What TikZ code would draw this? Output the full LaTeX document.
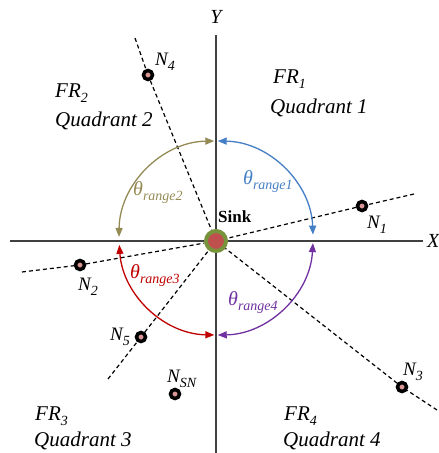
\documentclass[tikz,border=0pt]{standalone}
\usepackage{fontspec}
\setmainfont{Liberation Serif}
\usetikzlibrary{arrows.meta}
\definecolor{cblue}{HTML}{447EC4}
\definecolor{colive}{HTML}{948A54}
\definecolor{cred}{HTML}{C00000}
\definecolor{cpurple}{HTML}{7030A0}
\definecolor{caxis}{HTML}{404040}
\definecolor{cpink}{HTML}{D99694}
\definecolor{csink}{HTML}{C0504D}
\definecolor{cring}{HTML}{77933C}
\newcommand{\mysub}[1]{\raisebox{-5pt}{\fontsize{14}{14}\selectfont #1}}
\begin{document}
\begin{tikzpicture}[x=1pt,y=-1pt,
  axisline/.style={draw=caxis, line width=2pt},
  rayline/.style={draw=black, line width=1.2pt, dash pattern=on 4pt off 3pt},
  sensor/.style={circle, draw=black, line width=3.5pt, fill=cpink, minimum size=9pt, inner sep=0pt},
  sinknode/.style={circle, draw=cring, line width=4pt, fill=csink, minimum size=20pt, inner sep=0pt},
  rangearc/.style={line width=1.3pt, {Triangle[length=9pt,width=7pt]}-{Triangle[length=9pt,width=7pt]}},
  bigtxt/.style={font=\fontsize{21}{21}\selectfont\itshape, inner sep=0pt, anchor=base west},
  ntxt/.style={font=\fontsize{19}{19}\selectfont\itshape, inner sep=0pt, anchor=base west},
  thtxt/.style={font=\fontsize{20}{20}\selectfont\itshape, inner sep=0pt, anchor=base west},
  axtxt/.style={font=\fontsize{20}{20}\selectfont\itshape, inner sep=0pt}
]
\useasboundingbox (0,0) rectangle (439,453);
% axes
\coordinate (ytop) at (216,35);
\coordinate (ybot) at (216,453);
\coordinate (xl) at (10,241);
\coordinate (xr) at (423,241);
\draw[axisline] (ytop) -- (ybot);
\draw[axisline] (xl) -- (xr);
\node[axtxt] (ylab) at (216,17) {Y};
\node[axtxt, anchor=west] (xlab) at (427,241) {X};
% nodes
\node[sinknode] (sink) at (216,241) {};
\node[sensor] (n1) at (362,206) {};
\node[sensor] (n2) at (80,265) {};
\node[sensor] (n3) at (402,387) {};
\node[sensor] (n4) at (148,75) {};
\node[sensor] (n5) at (141,337) {};
\node[sensor] (nsn) at (175,394) {};
% ray ends
\coordinate (e1) at (414,194);
\coordinate (e2) at (22,272);
\coordinate (e3) at (437,410);
\coordinate (e4) at (135,38);
\coordinate (e5) at (108,379);
\draw[rayline] (e1) -- (n1) -- (sink);
\draw[rayline] (e2) -- (n2) -- (sink);
\draw[rayline] (e3) -- (n3) -- (sink);
\draw[rayline] (e4) -- (n4) -- (sink);
\draw[rayline] (e5) -- (n5) -- (sink);
% range arcs (centre 216,238, radius 97)
\coordinate (a1) at (217.7,141);
\coordinate (a2) at (214.3,141);
\coordinate (a3) at (119.25,244.9);
\coordinate (a4) at (312.9,243.1);
\draw[rangearc, cblue] (a1) arc[start angle=-89, end angle=-2, radius=97];
\draw[rangearc, colive] (a2) arc[start angle=-91, end angle=-179.4, radius=97];
\draw[rangearc, cred] (a3) arc[start angle=175.9, end angle=91, radius=97];
\draw[rangearc, cpurple] (a4) arc[start angle=3, end angle=89, radius=97];
% labels
\node[font=\fontsize{17}{17}\selectfont\bfseries, inner sep=0pt, anchor=base west] (sinklab) at (218,222) {Sink};
\node[thtxt, text=cblue] (th1) at (243,184) {θ\mysub{range1}};
\node[thtxt, text=colive] (th2) at (133,195) {θ\mysub{range2}};
\node[thtxt, text=cred] (th3) at (130,278) {θ\mysub{range3}};
\node[thtxt, text=cpurple] (th4) at (228,305) {θ\mysub{range4}};
\node[ntxt] (l1) at (367,228) {N\mysub{1}};
\node[ntxt] (l2) at (78,290) {N\mysub{2}};
\node[ntxt] (l3) at (403,375) {N\mysub{3}};
\node[ntxt] (l4) at (155,65) {N\mysub{4}};
\node[ntxt] (l5) at (110,340) {N\mysub{5}};
\node[ntxt] (lsn) at (167,382) {N\mysub{SN}};
\node[bigtxt] (fr1) at (273,83) {FR\mysub{1}};
\node[bigtxt] (q1) at (270,113) {Quadrant 1};
\node[bigtxt] (fr2) at (55,97) {FR\mysub{2}};
\node[bigtxt] (q2) at (55,126) {Quadrant 2};
\node[bigtxt] (fr3) at (35,420) {FR\mysub{3}};
\node[bigtxt] (q3) at (34,446) {Quadrant 3};
\node[bigtxt] (fr4) at (284,420) {FR\mysub{4}};
\node[bigtxt] (q4) at (283,446) {Quadrant 4};
\end{tikzpicture}
\end{document}
